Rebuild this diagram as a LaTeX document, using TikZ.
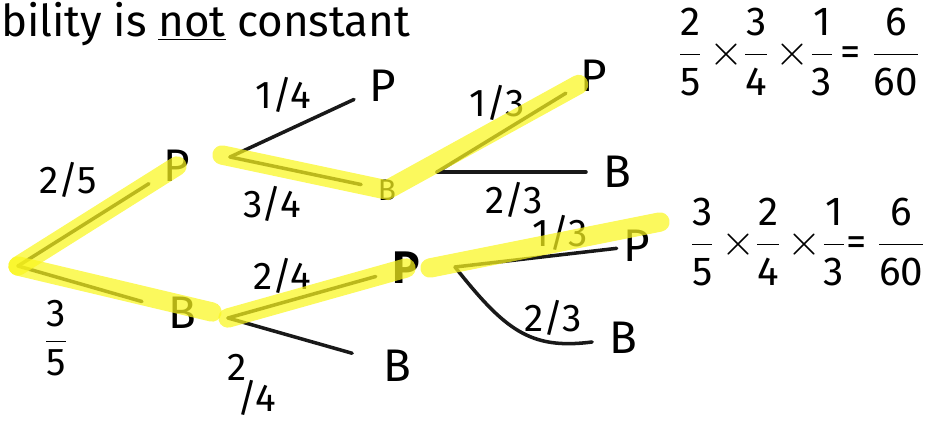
\documentclass[tikz,border=0pt]{standalone}
\usepackage{fontspec}
\setmainfont{Fira Sans}
\usepackage{tikz}
\usetikzlibrary{positioning}
\definecolor{hilite}{RGB}{250,246,30}
\newcommand{\hfrac}[2]{$\displaystyle\frac{\mbox{#1}}{\mbox{#2}}$}

\begin{document}
\begin{tikzpicture}[
    x=0.02cm, y=-0.02cm,
    outcome/.style={font=\fontsize{26}{28}\selectfont, inner sep=1pt},
    prob/.style={font=\fontsize{22}{24}\selectfont, inner sep=1pt},
    product/.style={font=\fontsize{23}{25}\selectfont, inner sep=1pt, anchor=west},
    branch/.style={draw=black!90, line width=2pt, line cap=round, shorten >=0.3cm},
    marker/.style={draw=hilite, line width=11pt, line cap=round, opacity=0.72}
    ]
    \useasboundingbox (0,0) rectangle (941,426);
    \node[anchor=west, font=\fontsize{25}{27}\selectfont] (title) at (-5,24) {bility is \underline{not} constant};
    % first pick
    \coordinate (root) at (18,266);
    \node[outcome] (p1) at (177,166) {P};
    \node[outcome] (b1) at (182,313) {B};
    \node[prob] (l25) at (68,180) {2/5};
    \node[prob] (l35) at (56,338) {\hfrac{3}{5}};
    % second pick after P
    \coordinate (f2) at (230,157);
    \node[outcome] (p2) at (383,86) {P};
    \node[outcome, font=\fontsize{17}{19}\selectfont] (b2) at (387,190) {B};
    \node[prob] (l14) at (283,95) {1/4};
    \node[prob] (l34) at (272,204) {3/4};
    % third pick after P, B
    \coordinate (f3) at (437,172);
    \node[outcome] (p3) at (594,76) {P};
    \node[outcome] (b3) at (617,172) {B};
    \node[prob] (l13a) at (497,103) {1/3};
    \node[prob] (l23a) at (514,200) {2/3};
    % second pick after B
    \coordinate (f4) at (228,318);
    \node[outcome] (p4) at (406,268) {\textbf{P}};
    \node[outcome] (b4) at (397,366) {B};
    \node[prob] (l24a) at (282,276) {2/4};
    \node[prob, align=left] (l24b) at (252,385) {2\\[-6pt]\ /4};
    % third pick after B, P
    \coordinate (f5) at (455,267);
    \node[outcome] (p5) at (637,246) {P};
    \node[outcome] (b5) at (623,338) {B};
    \node[prob] (l13b) at (560,233) {1/3};
    \node[prob] (l23b) at (553,318) {2/3};
    % branches
    \draw[branch] (root) -- (p1);
    \draw[branch, shorten >=0.5cm] (root) -- (b1);
    \draw[branch] (f2) -- (p2);
    \draw[branch] (f2) -- (b2);
    \draw[branch] (f3) -- (p3);
    \draw[branch] (f3) -- (b3);
    \draw[branch] (f4) -- (p4);
    \draw[branch, shorten >=0.6cm] (f4) -- (b4);
    \draw[branch, shorten >=0.1cm] (f5) -- (p5);
    \draw[branch] (f5) .. controls (505,330) and (530,350) .. (b5);
    % highlighted paths
    \coordinate (h1) at (212,312);
    \coordinate (h2) at (222,155);
    \coordinate (h3) at (430,268);
    \coordinate (h4) at (660,222);
    \draw[marker] (root) -- (p1.center);
    \draw[marker] (root) -- (h1);
    \draw[marker] (h2) -- (b2.center) -- (p3);
    \draw[marker] (f4) -- (p4.center);
    \draw[marker] (h3) -- (h4);
    % products
    \node[product] (eq1) at (676,52) {\hfrac{2}{5}\,$\times$\hfrac{3}{4}\,$\times$\hfrac{1}{3}\,=\ \hfrac{6}{60}};
    \node[product] (eq2) at (688,242) {\hfrac{3}{5}\,$\times$\hfrac{2}{4}\,$\times$\hfrac{1}{3}=\ \hfrac{6}{60}};
\end{tikzpicture}
\end{document}
